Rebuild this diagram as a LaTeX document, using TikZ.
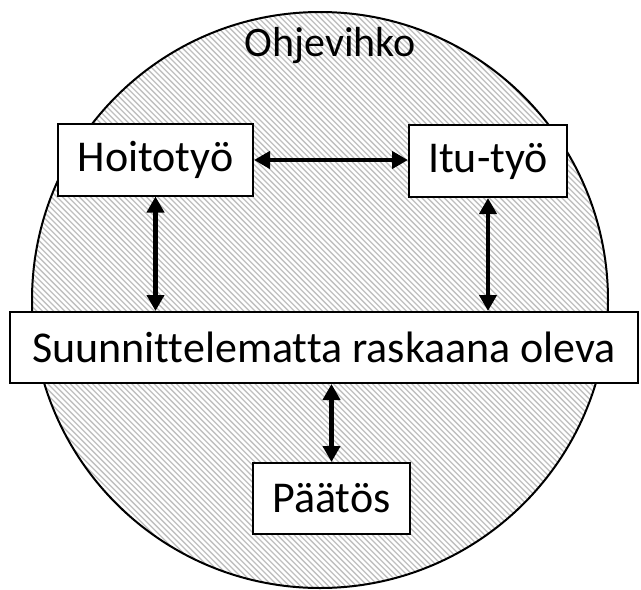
\documentclass[tikz,border=0pt]{standalone}
\usepackage{fontspec}
\setmainfont{Carlito}[Ligatures=NoCommon]
\usetikzlibrary{arrows.meta}
\begin{document}
\begin{tikzpicture}[x=1pt,y=1pt,
  box/.style={draw=black,line width=2pt,fill=white,inner sep=0pt,
    font=\fontsize{44}{48}\selectfont},
  link/.style={line width=4.6pt,{Triangle[length=16pt,width=17pt]}-{Triangle[length=16pt,width=17pt]}}]
\useasboundingbox (0,0) rectangle (641,-590);
% hatched circle
\begin{scope}
  \clip (320,-300) circle (288);
  \fill[white] (320,-300) circle (288);
  \foreach \k in {-700,-694.4,...,700}
    \draw[gray!50,line width=1.3pt] (\k,0) -- ++(700,-700);
\end{scope}
\draw[line width=2pt] (320,-300) circle (288);
\node[font=\fontsize{42}{46}\selectfont] (title) at (330,-46) {Ohjevihko};
% boxes
\node[box,minimum width=195pt,minimum height=72pt] (hoito) at (155.5,-159.5) {Hoitotyö};
\node[box,minimum width=158pt,minimum height=72pt] (itu) at (488,-161) {Itu-työ};
\node[box,minimum width=628pt,minimum height=71pt] (suun) at (324,-347.5) {Suunnittelematta raskaana oleva};
\node[box,minimum width=157pt,minimum height=71pt] (paatos) at (331.5,-498.5) {Päätös};
% links
\draw[link] (hoito.east |- 0,-160) -- (itu.west |- 0,-160);
\draw[link] (hoito.south) -- (hoito.south |- suun.north);
\draw[link] (itu.south) -- (itu.south |- suun.north);
\draw[link] (paatos.north) -- (paatos.north |- suun.south);
\end{tikzpicture}
\end{document}
